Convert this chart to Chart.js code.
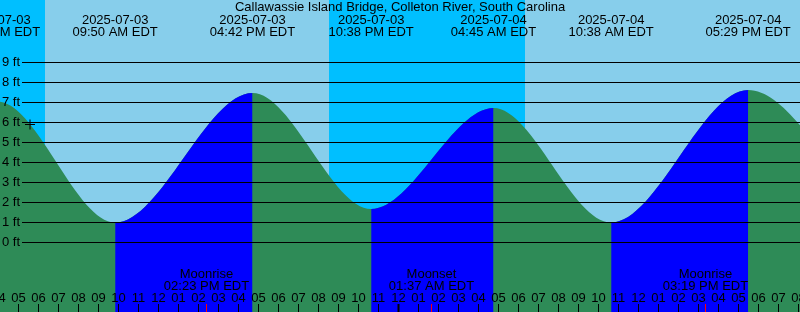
<!DOCTYPE html>
<html>
<head>
<meta charset="utf-8">
<script src="https://cdn.jsdelivr.net/npm/chart.js@4.4.1/dist/chart.umd.min.js"></script>
<style>
  body { margin: 0; background: #87ceeb; }
  canvas { display: block; }
</style>
</head>
<body>
<canvas id="tideChart" width="800" height="312"></canvas>
<script>
// times are hours after 2025-07-03 00:00 EDT
const tideHours = [-2.3, 3.95, 9.833, 16.7, 22.633, 28.75, 34.633, 41.483, 47.6];
const tideFeet = [1.6, 7.05, 1.0, 7.48, 1.68, 6.73, 1.0, 7.63, 1.4];
const tideDates = ['2025-07-02', '2025-07-03', '2025-07-03', '2025-07-03', '2025-07-03',
  '2025-07-04', '2025-07-04', '2025-07-04', '2025-07-04'];
const tideClock = ['09:42 PM EDT', '03:57 AM EDT', '09:50 AM EDT', '04:42 PM EDT', '10:38 PM EDT',
  '04:45 AM EDT', '10:38 AM EDT', '05:29 PM EDT', '11:36 PM EDT'];

const sunsetHours = [-3.45, 20.525];
const sunriseHours = [6.325, 30.325];

const moonHours = [14.383, 25.617, 39.317];
const moonNames = ['Moonrise', 'Moonset', 'Moonrise'];
const moonClock = ['02:23 PM EDT', '01:37 AM EDT', '03:19 PM EDT'];

const feetTicks = [0, 1, 2, 3, 4, 5, 6, 7, 8, 9];
const nowHour = 5.575;
const nowFeet = 5.9;

const title = 'Callawassie Island Bridge, Colleton River, South Carolina';

const DAY = '#87ceeb';
const NIGHT = '#00bfff';
const FALLING = '#2e8b57';
const RISING = '#0000ff';
const FONT = '13px "Liberation Sans", Arial, sans-serif';

const xMin = 4.075, xMax = 44.075;
const yMin = -3.475, yMax = 12.125;

function hourLabel(h) {
  const v = ((h % 12) + 12) % 12 || 12;
  return String(v).padStart(2, '0');
}

const tidePainter = {
  id: 'tidePainter',
  beforeDraw(chart) {
    const { ctx, chartArea: a, scales: { x } } = chart;
    ctx.save();
    ctx.fillStyle = DAY;
    ctx.fillRect(a.left, a.top, a.right - a.left, a.bottom - a.top);
    ctx.fillStyle = NIGHT;
    sunsetHours.forEach((s, i) => {
      const x0 = Math.max(a.left, x.getPixelForValue(s));
      const x1 = Math.min(a.right, x.getPixelForValue(sunriseHours[i]));
      if (x1 > x0) ctx.fillRect(x0, a.top, x1 - x0, a.bottom - a.top);
    });
    ctx.restore();
  },
  afterDatasetsDraw(chart) {
    const { ctx, chartArea: a, scales: { x, y } } = chart;
    ctx.save();
    ctx.font = FONT;
    ctx.fillStyle = '#000';
    ctx.strokeStyle = '#000';
    ctx.lineWidth = 1;

    // depth lines + labels
    ctx.textAlign = 'right';
    ctx.textBaseline = 'alphabetic';
    feetTicks.forEach(v => {
      const py = y.getPixelForValue(v);
      ctx.beginPath();
      ctx.moveTo(22, py);
      ctx.lineTo(a.right, py);
      ctx.stroke();
      ctx.fillText(v + ' ft', 20, Math.round(py + 3.5));
    });

    // hour ticks along the bottom
    ctx.textAlign = 'center';
    for (let h = Math.floor(xMin); h <= Math.ceil(xMax); h++) {
      const px = x.getPixelForValue(h);
      ctx.lineWidth = (h % 24 === 0) ? 2 : 1;
      ctx.beginPath();
      ctx.moveTo(px, 304);
      ctx.lineTo(px, a.bottom);
      ctx.stroke();
      ctx.fillText(hourLabel(h), px, 302);
    }

    // moon events
    ctx.lineWidth = 1;
    ctx.strokeStyle = '#ff0000';
    moonHours.forEach((m, i) => {
      const px = Math.round(x.getPixelForValue(m)) + 0.5;
      ctx.beginPath();
      ctx.moveTo(px, 304);
      ctx.lineTo(px, a.bottom);
      ctx.stroke();
      ctx.fillText(moonNames[i], px, 278);
      ctx.fillText(moonClock[i], px, 290);
    });

    // high / low labels
    tideHours.forEach((h, i) => {
      const px = x.getPixelForValue(h);
      ctx.fillText(tideDates[i], px, 24);
      ctx.fillText(tideClock[i], px, 36);
    });

    ctx.fillText(title, (a.left + a.right) / 2, 11);
    ctx.restore();
  }
};

const tidePoints = tideHours.map((h, i) => ({ x: h, y: tideFeet[i] }));

new Chart(document.getElementById('tideChart'), {
  type: 'line',
  data: {
    datasets: [
      {
        data: [{ x: nowHour, y: nowFeet }],
        showLine: false,
        fill: false,
        pointStyle: 'cross',
        pointRadius: 5,
        borderColor: '#000',
        borderWidth: 1
      },
      {
        // rising tide drawn over the falling colour
        data: tidePoints,
        fill: { value: yMin },
        backgroundColor: RISING,
        borderColor: 'rgba(0,0,0,0)',
        borderWidth: 0,
        pointRadius: 0,
        cubicInterpolationMode: 'monotone',
        segment: {
          backgroundColor: c => c.p1.parsed.y > c.p0.parsed.y ? RISING : 'rgba(0,0,0,0)'
        }
      },
      {
        data: tidePoints,
        fill: { value: yMin },
        backgroundColor: FALLING,
        borderColor: 'rgba(0,0,0,0)',
        borderWidth: 0,
        pointRadius: 0,
        cubicInterpolationMode: 'monotone'
      }
    ]
  },
  options: {
    responsive: false,
    animation: false,
    events: [],
    layout: { padding: 0, autoPadding: false },
    plugins: { legend: { display: false }, tooltip: { enabled: false } },
    scales: {
      x: { type: 'linear', display: false, min: xMin, max: xMax },
      y: { display: false, min: yMin, max: yMax }
    }
  },
  plugins: [tidePainter]
});
</script>
</body>
</html>
